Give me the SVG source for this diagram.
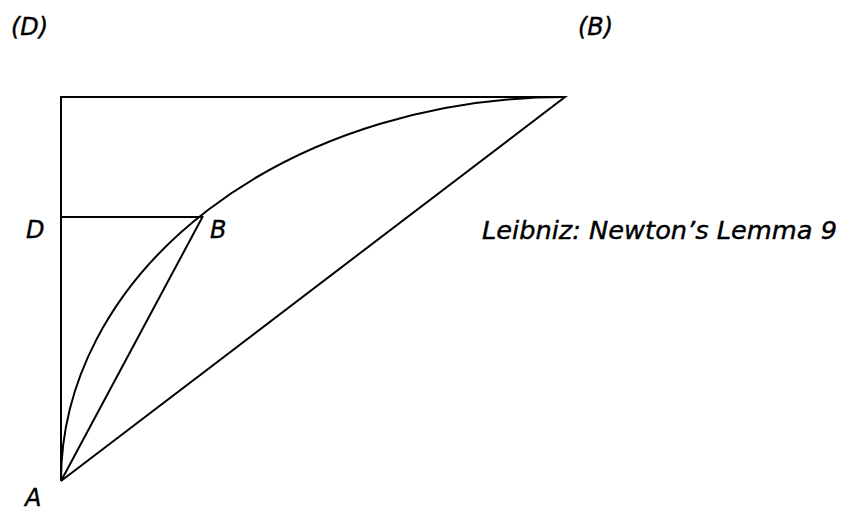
<svg xmlns="http://www.w3.org/2000/svg" width="846" height="512" viewBox="0 0 846 512">
<style>
.ln{fill:none;stroke:#000;stroke-width:2;}
.lb{font-family:"DejaVu Sans","Liberation Sans",sans-serif;font-style:italic;font-size:24px;fill:#000;stroke:#000;stroke-width:0.4;}
</style>
<rect width="846" height="512" fill="#fff"/>
<g id="connectors">
<path class="ln" d="M61,481 L61,97 L565,97 L61,481"/>
<path class="ln" d="M61,217 L203,217"/>
<path class="ln" d="M61,481 L203,216"/>
<path class="ln" d="M61,481 A504,384 0 0 1 565,97"/>
</g>
<g id="labels">
<text class="lb" x="11" y="35">(D)</text>
<text class="lb" x="578" y="35">(B)</text>
<text class="lb" x="26" y="238">D</text>
<text class="lb" x="210" y="238">B</text>
<text class="lb" x="25" y="506">A</text>
<text class="lb" x="482" y="239" textLength="355" lengthAdjust="spacingAndGlyphs">Leibniz: Newton’s Lemma 9</text>
</g>
</svg>
